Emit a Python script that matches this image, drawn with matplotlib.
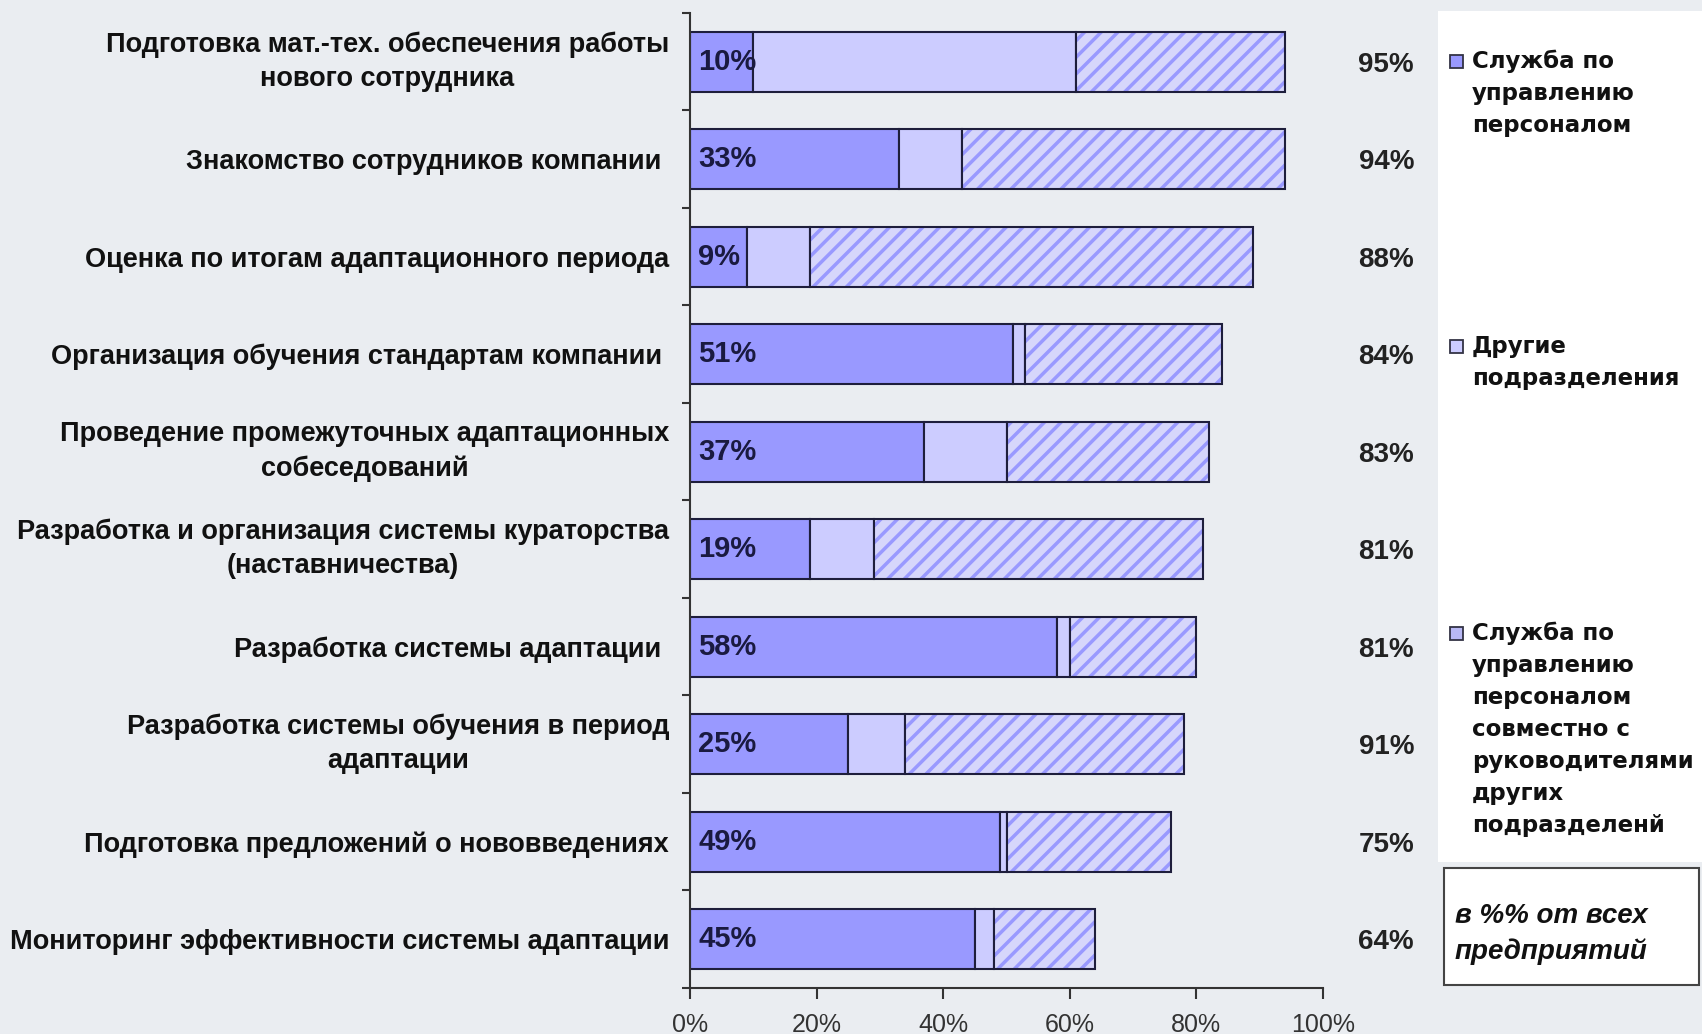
import numpy as np
import matplotlib
matplotlib.use("Agg")
from matplotlib import pyplot as plt
from matplotlib.patches import Rectangle

categories = [
    "Подготовка мат.-тех. обеспечения работы\nнового сотрудника",
    "Знакомство сотрудников компании ",
    "Оценка по итогам адаптационного периода",
    "Организация обучения стандартам компании ",
    "Проведение промежуточных адаптационных\nсобеседований",
    "Разработка и организация системы кураторства\n(наставничества)",
    "Разработка системы адаптации ",
    "Разработка системы обучения в период\nадаптации",
    "Подготовка предложений о нововведениях",
    "Мониторинг эффективности системы адаптации",
]
hr_service = [10, 33, 9, 51, 37, 19, 58, 25, 49, 45]
other_units = [51, 10, 10, 2, 13, 10, 2, 9, 1, 3]
joint = [33, 51, 70, 31, 32, 52, 20, 44, 26, 16]
total_labels = ["95%", "94%", "88%", "84%", "83%", "81%", "81%", "91%", "75%", "64%"]
x_ticks = [0, 20, 40, 60, 80, 100]
series_names = [
    "Служба по\nуправлению\nперсоналом",
    "Другие\nподразделения",
    "Служба по\nуправлению\nперсоналом\nсовместно с\nруководителями\nдругих\nподразделенй",
]
note_text = "в %% от всех\nпредприятий"

plt.rcParams["hatch.linewidth"] = 2.5

W, H = 1702, 1034
bg = "#eaedf1"
c1, c2, c3 = "#9999ff", "#ccccff", "#d6d6fb"
edge = "#1e1e3c"

fig = plt.figure(figsize=(W / 100, H / 100), dpi=100, facecolor=bg)

# white legend panel and note box
fig.patches.append(Rectangle((1438 / W, 1 - 862 / H), 264 / W, 851 / H,
                             transform=fig.transFigure, facecolor="white", edgecolor="none"))
fig.patches.append(Rectangle((1444 / W, 1 - 985 / H), 255 / W, 117 / H,
                             transform=fig.transFigure, facecolor="white", edgecolor="#444444", lw=1.5))

ax = fig.add_axes([690 / W, 1 - 988 / H, 633 / W, 975 / H])
ax.set_facecolor("none")

y = np.arange(len(categories))
h = 0.62
s1 = np.array(hr_service)
s2 = np.array(other_units)
s3 = np.array(joint)

ax.barh(y, s1, height=h, color=c1, edgecolor=edge, lw=1.5)
ax.barh(y, s2, left=s1, height=h, color=c2, edgecolor=edge, lw=1.5)
ax.barh(y, s3, left=s1 + s2, height=h, color=c3, edgecolor=c1, hatch="//", lw=0)
ax.barh(y, s3, left=s1 + s2, height=h, fill=False, edgecolor=edge, lw=1.5)

for i, v in enumerate(hr_service):
    ax.text(1.3, i, f"{v}%", ha="left", va="center", fontsize=21,
            fontweight="bold", color="#1a1a40", family="Liberation Sans")
    ax.text(110, i + 0.03, total_labels[i], ha="center", va="center", fontsize=20,
            fontweight="bold", color="#222222", family="Liberation Sans", clip_on=False)

ax.set_xlim(0, 100)
ax.set_ylim(len(categories) - 0.5, -0.5)
ax.set_xticks(x_ticks)
ax.set_xticklabels([f"{t}%" for t in x_ticks], family="Liberation Sans", fontsize=18, color="#333333")
ax.set_yticks(y)
ax.set_yticklabels(categories, family="Liberation Sans", fontsize=19.5, fontweight="bold",
                   ha="right", multialignment="center", linespacing=1.4,
                   color="#111111")
for lab in ax.get_yticklabels():
    if "\n" in lab.get_text():
        lab.set_va("center")
ax.set_yticks(np.arange(-0.5, len(categories)), minor=True)
ax.tick_params(axis="y", which="major", length=0, pad=15)
ax.tick_params(axis="y", which="minor", length=6, width=1.5, color="#333333")
ax.tick_params(axis="x", length=8, width=1.5, color="#333333", pad=10)
for side in ["top", "right"]:
    ax.spines[side].set_visible(False)
for side in ["left", "bottom"]:
    ax.spines[side].set_color("#333333")
    ax.spines[side].set_linewidth(1.5)

# legend entries
legend_colors = [c1, c2, "#b8b8f4"]
legend_tops = [50, 335, 622]
for name, col, top in zip(series_names, legend_colors, legend_tops):
    fig.patches.append(Rectangle((1450 / W, 1 - (top + 18) / H), 13 / W, 13 / H,
                                 transform=fig.transFigure, facecolor=col,
                                 edgecolor="#333344", lw=1.3))
    fig.text(1472 / W, 1 - top / H, name, ha="left", va="top", fontsize=16.5,
             fontweight="bold", family="DejaVu Sans", linespacing=1.5, color="#111111")

fig.text(1455 / W, 1 - 903 / H, note_text, ha="left", va="top", fontsize=20,
         fontweight="bold", style="italic", family="Liberation Sans", linespacing=1.45,
         color="#111111")

fig.savefig("out.png", dpi=100, facecolor=bg)
